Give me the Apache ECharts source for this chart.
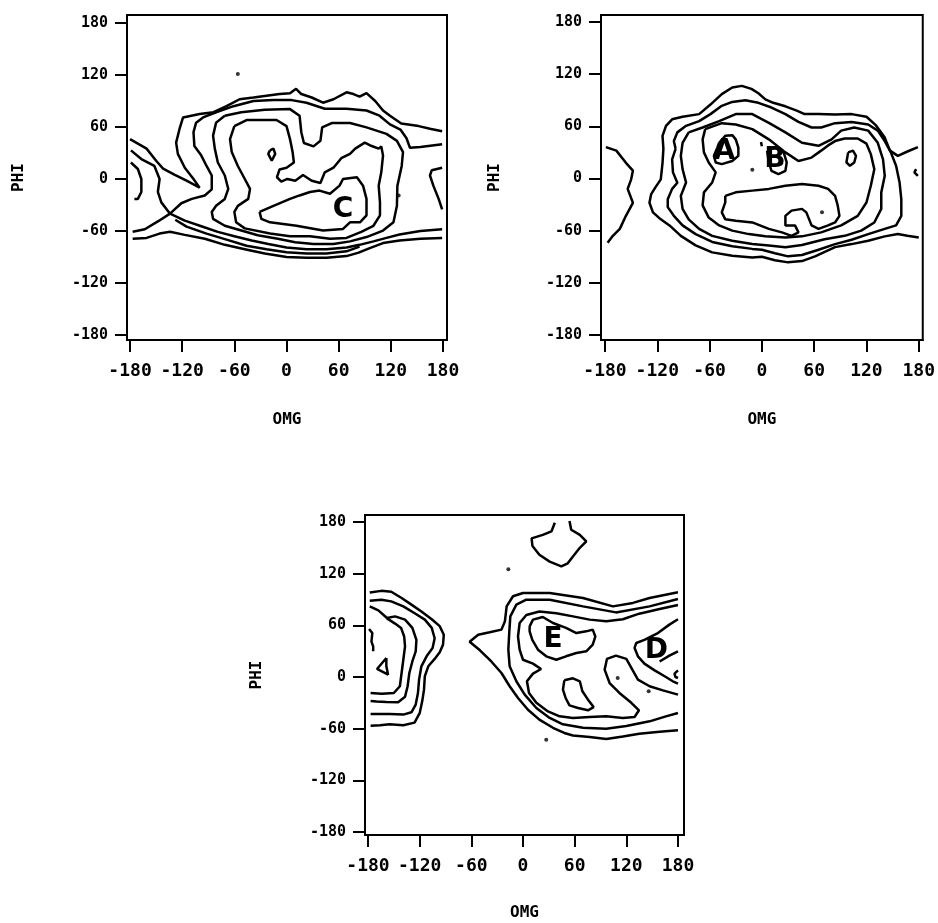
<!DOCTYPE html>
<html>
<head>
<meta charset="utf-8">
<script src="https://cdn.jsdelivr.net/npm/echarts@6/dist/echarts.min.js"></script>
<style>
html,body{margin:0;padding:0;background:#fff;}
#chart{width:938px;height:923px;}
</style>
</head>
<body>
<div id="chart"></div>
<script>
// tick labels shared by all three panels
var tickVals = [-180, -120, -60, 0, 60, 120, 180];

// ---- panel 1 (top left) contour lines, [OMG, PHI] ----
var p1Outer = [[-180,46],[-161,35],[-150,21],[-142,12],[-129,5],[-115,-2],[-100,-10],[-107,0],[-117,13],[-125,29],[-127,42],[-123,58],[-119,71],[-100,75],[-84,77],[-69,84],[-54,92],[-38,94],[-23,96],[-8,98],[4,99],[11,104],[17,98],[29,94],[42,88],[54,92],[69,100],[77,98],[84,95],[92,99],[102,90],[111,79],[119,73],[132,64],[152,61],[165,58],[179,55]];
var p1Second = [[-177,-61],[-163,-58],[-148,-49],[-134,-40],[-121,-28],[-109,-23],[-94,-19],[-86,-12],[-86,4],[-92,15],[-98,27],[-106,38],[-107,54],[-104,65],[-96,71],[-81,77],[-61,84],[-38,90],[-15,91],[6,91],[23,88],[44,81],[69,81],[92,79],[107,73],[119,63],[131,57],[138,47],[142,36],[154,37],[179,40]];
var p1Cross = [[-179,33],[-167,23],[-152,15],[-146,0],[-148,-15],[-144,-27],[-134,-40],[-117,-48],[-98,-54.5],[-79,-61],[-60,-66],[-40,-71],[-21,-75],[0,-79],[23,-81],[46,-81],[69,-79],[84,-76],[100,-72],[115,-68],[130,-64],[154,-60],[179,-58]];
var p1Mid = [[-128,-47],[-115,-55],[-92,-63],[-69,-70],[-46,-77],[-23,-81],[0,-84.5],[23,-86],[46,-86],[69,-83.5],[84,-78]];
var p1Bottom = [[-177,-69],[-161,-68],[-146,-63],[-134,-61],[-117,-64.5],[-94,-69],[-71,-76],[-48,-81],[-25,-86],[0,-90],[23,-91],[46,-91],[69,-89],[83,-85],[95,-80],[111,-74],[130,-71],[154,-69],[179,-68]];
var p1Third = [[-71,73],[-81,65],[-84.5,50],[-82.5,35],[-79,19],[-71,4],[-67,-11.5],[-71,-23],[-81,-31],[-86,-38],[-84.5,-46],[-71,-54],[-52,-59.5],[-33,-65],[-10,-69],[10,-73],[31,-75],[54,-75],[73,-72],[92,-67],[111,-59.5],[123,-50],[127,-31],[127.5,-8],[132.5,15],[134,31],[127,44],[115,52],[92,59.5],[73,64.5],[52,64.5],[41,59.5],[39,44],[31,37.6],[20,41.5],[17,54],[15,73],[4,80.6],[-25,80],[-52,77],[-71,73]];
var p1Fourth = [[-60,61],[-46,68],[-27,68],[-11.5,68],[0,61],[4,46],[7,31],[8.5,19],[0,13],[-8,11],[-11,2],[-6,-3],[1,0],[10,-2],[19,4.6],[29,-2],[39,-4.6],[44,7.7],[54,13],[63,24],[73,29],[79,35],[90,42],[98,38],[106,35],[109,37.6],[111,27],[109,7.7],[106,-7.7],[107.5,-27],[107.5,-42],[100,-54],[86,-61],[69,-68],[50,-69],[27,-66],[4,-66],[-19,-63],[-48,-57],[-58,-50],[-60,-38],[-56,-31],[-44,-23],[-42,-11.5],[-48,0],[-56,15],[-63,31],[-65,46],[-60,61]];
var p1Inner = [[-31,-38],[-15,-31],[4,-23],[15,-19],[27,-15],[38,-13.4],[50,-17],[61,-7.7],[65,0],[81,2],[88,-7.7],[92,-23],[92,-42],[84.5,-50],[73,-50],[65,-57.6],[42,-59.5],[11.5,-54],[-19,-50],[-29,-46],[-31,-38]];
var p1Blob = [[-19,33],[-15,35],[-13,29],[-17,21],[-21,29],[-19,33]];
var p1LeftArc = [[-179,19],[-171,11.5],[-167,0],[-167,-15],[-171,-23],[-175,-23]];
var p1RightArc = [[179,13],[167,10],[165,4],[169,-8],[175,-23],[179,-35]];
var p1Dots = [[129,-19],[-56,121]];
var p1Letters = ['C'];
var p1LetterPos = [[65,-36]];

// ---- panel 2 (top right) ----
var p2LeftArc = [[-179,36],[-167,32],[-156,18],[-148,9],[-150,-1],[-154,-12],[-148,-28],[-156,-43],[-163,-58],[-171,-66],[-177,-74]];
var p2Outer = [[179,36],[167,31],[156,26],[147,32],[141,47],[131,61],[120,71],[103,74],[84,73.5],[65,74],[49,74],[40,78],[27,83],[13,87],[4,91],[-4,98],[-12,103],[-23,106.5],[-34,104.6],[-46,97],[-59,85],[-72,74],[-91,71],[-103,68],[-110,60.5],[-114,49],[-113,34],[-114,18],[-116,-1],[-122,-10],[-127,-18],[-129,-28],[-125,-39],[-116,-47],[-106,-54],[-93,-66],[-76,-77],[-57,-85],[-34,-89],[-11,-91],[0,-90],[15,-94],[30,-96.5],[46,-95],[61,-89.6],[84,-79],[103,-75.5],[122,-71.6],[141,-66.6],[156,-64],[167,-66],[180,-68]];
var p2Second = [[-99,34],[-103,22],[-102,7],[-97,-5],[-103,-12],[-108,-24],[-108,-33],[-101,-43],[-91,-54],[-76,-64],[-57,-73],[-34,-78],[-11,-81],[0,-82],[15,-86],[30,-89.6],[46,-88],[65,-82],[84,-75.5],[103,-70.5],[122,-64],[141,-58],[154,-54],[160,-43],[160,-24],[158,-4.6],[154,14.6],[148,30],[141,43],[133,55],[122,62],[103,65],[84,63.6],[68,58.6],[57,58.6],[42,65],[27,74],[11,81.6],[-4,87],[-19,90],[-34,88],[-46,83.5],[-59,74],[-72,66],[-87,60.5],[-97,53],[-101,43],[-99,34]];
var p2Third = [[-84,53],[-68,58.6],[-49,66],[-30,74],[-11,74],[8,64],[27,53],[46,41],[65,37.5],[80,45],[91,55],[106,58.6],[122,55],[133,41],[139,22],[141,3],[137,-16],[137,-35],[129,-50.6],[114,-60],[95,-66],[72,-70],[46,-76.6],[27,-79],[8,-77],[-11,-75.5],[-34,-71.6],[-57,-66],[-72,-58],[-84,-47],[-91,-35],[-93,-20],[-87,-4.6],[-91,10.7],[-93,26],[-91,41],[-84,53]];
var p2Fourth = [[-65,56.7],[-46,63.6],[-30,62],[-11,56.7],[8,45],[27,30],[42,20],[57,24],[68,32],[76,38],[84,43],[95,46],[110,46],[120,40],[125,28],[129,10.7],[125,-8.4],[120,-27.6],[110,-43],[91,-54],[68,-62],[46,-66.6],[27,-68],[4,-66.6],[-15,-64],[-34,-60],[-49,-54],[-61,-45],[-68,-31],[-66.5,-16],[-57,-4.6],[-53,7],[-61,18.4],[-66.5,30],[-68,45],[-65,56.7]];
var p2Hook = [[-42,-20],[-30,-16],[-11,-14],[8,-12],[27,-8.4],[46,-6.5],[65,-8.4],[76,-12],[84,-20],[87,-31],[89,-43],[84,-50.6],[76,-54],[65,-58],[57,-54],[51,-39],[46,-35],[34,-37],[27,-43],[27,-54],[38,-54],[42,-62],[34,-66],[23,-62],[8,-58],[-11,-50.6],[-30,-48.6],[-42,-47],[-46,-39],[-42,-27.6],[-42,-20]];
var p2LoopA = [[-49,41],[-42,49],[-34,49.8],[-30,45],[-27,35.6],[-27,26],[-34,20],[-46,16.5],[-53,18.4],[-55,26],[-51,35.6],[-49,41]];
var p2LoopB = [[6,31.8],[15,35.6],[25,30],[28.5,18.4],[27,8.8],[19,5],[11,8.8],[8,18.4],[6,31.8]];
var p2Lobe = [[99,30],[104.5,32],[108,26],[106,18.4],[101,14.6],[97,18.4],[99,30]];
var p2EdgeBit = [[177,10.7],[175,7],[179,3]];
var p2Tick = [[-1,42],[0,37]];
var p2Dots = [[-11,10],[69,-39]];
var p2Letters = ['A', 'B'];
var p2LetterPos = [[-43,31],[15,22]];

// ---- panel 3 (bottom) ----
var p3TopBlob = [[37,179],[33,169],[23,165],[10,161],[11,152],[19,142],[31,134],[44.5,128.5],[52,132],[58,140],[66,150],[73.5,157.5],[66,165],[56,171],[54,181]];
var p3Left1 = [[-178,98],[-164.5,100],[-153,99],[-141,91.7],[-129.6,84],[-118,76],[-106,67],[-96.7,59],[-92,49],[-92.9,37.5],[-96.7,28.6],[-102.6,21],[-110,12.4],[-114,1],[-115,-15],[-117,-28],[-120,-42],[-126,-53],[-139,-56],[-155,-55],[-166,-56],[-177,-56.5]];
var p3Left2 = [[-178,88.6],[-164.5,89.8],[-153,87.8],[-139,82],[-125.8,74],[-114,66.6],[-106,57],[-102.6,45],[-105,33.7],[-112,24],[-118,12.4],[-120.7,-3],[-122,-18.6],[-124.6,-32],[-129.6,-41],[-139,-43.7],[-155,-43],[-166,-43],[-177,-43]];
var p3Left3 = [[-178,82],[-168,77.4],[-158,68.5],[-148.6,70.4],[-137,66.6],[-128.5,57],[-123.8,43],[-124.6,29.8],[-128.5,18],[-132,4.6],[-134,-10.8],[-137,-23],[-145,-29.4],[-158.7,-29],[-170,-28.6],[-177,-28]];
var p3Left4 = [[-177,-18.6],[-164,-19.4],[-150,-18.6],[-143,-10.8],[-141,4.6],[-139,20],[-137,35.6],[-138,47],[-141.6,57],[-148.6,62],[-158,68]];
var p3EdgeLeft = [[-178.8,55.7],[-175,51],[-176,41],[-174,35.6],[-174,29.8]];
var p3Tri = [[-158.7,22],[-169.5,9.3],[-156.7,2.7],[-158.7,12.4],[-158.7,22]];
var p3Right1 = [[180,98.3],[147,91.7],[127.7,86],[104.5,82],[69.7,91.7],[31,97.5],[0,97.5],[-11.6,93.7],[-19,82],[-21,64.6],[-25,55],[-38.7,51.9],[-52,49],[-62,41],[-50,31],[-36.8,18],[-25,4.6],[-15.5,-10.8],[-5.8,-24.4],[5.8,-38],[19,-49.5],[34.8,-59],[48,-65],[58,-68],[77.4,-69.7],[96.7,-72],[116,-69],[135,-65.8],[158.7,-63.5],[180,-62]];
var p3Right2 = [[180,90.6],[147,82],[108,75],[69.7,82],[31,89.8],[3.9,89.8],[-7.7,84],[-14.7,70.4],[-16,51],[-17,31.7],[-15.5,12.4],[-7.7,-5],[2,-20.5],[15.5,-36],[31,-47.6],[46.4,-55],[69.7,-59],[96.7,-60],[120,-57],[147,-51.5],[166,-45.7],[180,-41.8]];
var p3Right3 = [[180,83.6],[158.7,79],[135,73.5],[116,67],[96.7,64.6],[77.4,66.6],[58,70.4],[38.7,74],[19,76],[3.9,72],[-3.9,62.7],[-5.8,47],[-3.9,31.7],[0,20],[11.6,15.5],[21,9.3],[11.6,3.9],[4.6,-5],[7,-18.6],[15.5,-30],[29,-40],[42.6,-45.7],[58,-47.6],[77.4,-46.4],[96.7,-45.7],[116,-47.6],[129.6,-46.4],[134.7,-38.7],[125.8,-30],[112,-18.6],[100.6,-7],[94.8,8.5],[97.5,21],[108,24.8],[120,21],[127,8.5],[133.5,-3],[147,-10.8],[162.5,-15.5],[180,-20.5]];
var p3Hand = [[48,-3.9],[58,-1.5],[66,-5],[69,-16.6],[75.5,-26.3],[82,-35],[75.5,-38.7],[64,-36],[54,-33],[49.5,-24.4],[46.4,-14.7],[48,-3.9]];
var p3LoopE = [[7.7,58.8],[11.6,66.6],[23,69.7],[34.8,62.7],[50,57],[62,51],[73.5,53],[81,55],[84,47],[81,37.5],[73.5,29.8],[62,27.9],[50,24],[38.7,20],[27,24],[17.4,31.7],[10.8,43],[7.7,53],[7.7,58.8]];
var p3LineD = [[180,67],[170,60.8],[156.7,51],[141,43],[131.6,39.5],[129.6,33.7],[133.5,24],[141,15.5],[152.9,7.7],[164.5,0.8],[174,-5],[180,-7.7]];
var p3ShortD = [[158.7,18],[170,24.8],[180,29.8]];
var p3EdgeRight = [[180,7.7],[176,3.9],[177,0],[180,-1.2]];
var p3Dots = [[110,-1.2],[146,-16.6],[-17,125],[27,-73]];
var p3Letters = ['E', 'D'];
var p3LetterPos = [[35,43],[155,30]];

var myChart = echarts.init(document.getElementById('chart'));
var FONT = 'DejaVu Sans Mono';

var grids = [
  { left: 127, top: 15, width: 320, height: 325 },
  { left: 601, top: 15, width: 324, height: 325 },
  { left: 365, top: 515, width: 319, height: 320 }
];
var xRange = [[-183.5, 184.6], [-184.6, 184.6], [-183.5, 187]];
var yRange = [[-185.8, 189.2], [-185.8, 188], [-183.5, 188.1]];
var xNameGap = [72, 72, 70];
var yNameGap = [100, 98, 100];

function xAxisOf(i) {
  return {
    type: 'value', gridIndex: i, min: xRange[i][0], max: xRange[i][1],
    name: 'OMG', nameLocation: 'middle', nameGap: xNameGap[i],
    nameTextStyle: { color: '#000', fontFamily: FONT, fontWeight: 'bold', fontSize: 16 },
    axisLine: { show: true, onZero: false, lineStyle: { color: '#000', width: 2 } },
    axisTick: { show: true, length: 12, customValues: tickVals, lineStyle: { color: '#000', width: 2 } },
    axisLabel: { customValues: tickVals, margin: 22, color: '#000', fontFamily: FONT, fontWeight: 'bold', fontSize: 18 },
    splitLine: { show: false }
  };
}
function yAxisOf(i) {
  return {
    type: 'value', gridIndex: i, min: yRange[i][0], max: yRange[i][1],
    name: 'PHI', nameLocation: 'middle', nameGap: yNameGap[i],
    nameTextStyle: { color: '#000', fontFamily: FONT, fontWeight: 'bold', fontSize: 16 },
    axisLine: { show: true, onZero: false, lineStyle: { color: '#000', width: 2 } },
    axisTick: { show: true, length: 12, customValues: tickVals, lineStyle: { color: '#000', width: 2 } },
    axisLabel: { customValues: tickVals, margin: 19, color: '#000', fontFamily: FONT, fontWeight: 'bold', fontSize: 15 },
    splitLine: { show: false }
  };
}
function contour(data, i) {
  return {
    type: 'line', xAxisIndex: i, yAxisIndex: i, data: data,
    symbol: 'none', showSymbol: false, smooth: false, silent: true,
    lineStyle: { color: '#000', width: 2.5 }
  };
}
function dots(data, i) {
  return {
    type: 'scatter', xAxisIndex: i, yAxisIndex: i, data: data,
    symbol: 'circle', symbolSize: 4, silent: true, itemStyle: { color: '#000' }
  };
}
function letters(names, pos, i) {
  var d = [];
  for (var k = 0; k < names.length; k++) {
    d.push({ name: names[k], value: pos[k] });
  }
  return {
    type: 'scatter', xAxisIndex: i, yAxisIndex: i, data: d, z: 5,
    symbol: 'circle', symbolSize: 0, silent: true,
    itemStyle: { color: '#000' },
    label: { show: true, position: 'inside', formatter: '{b}', color: '#000', opacity: 1,
      textBorderWidth: 0, fontFamily: 'DejaVu Sans', fontWeight: 'bold', fontSize: 28 }
  };
}

var series = [];
[p1Outer, p1Second, p1Cross, p1Mid, p1Bottom, p1Third, p1Fourth, p1Inner, p1Blob, p1LeftArc, p1RightArc]
  .forEach(function (d) { series.push(contour(d, 0)); });
series.push(dots(p1Dots, 0));
series.push(letters(p1Letters, p1LetterPos, 0));

[p2LeftArc, p2Outer, p2Second, p2Third, p2Fourth, p2Hook, p2LoopA, p2LoopB, p2Lobe, p2EdgeBit, p2Tick]
  .forEach(function (d) { series.push(contour(d, 1)); });
series.push(dots(p2Dots, 1));
series.push(letters(p2Letters, p2LetterPos, 1));

[p3TopBlob, p3Left1, p3Left2, p3Left3, p3Left4, p3EdgeLeft, p3Tri, p3Right1, p3Right2, p3Right3, p3Hand, p3LoopE, p3LineD, p3ShortD, p3EdgeRight]
  .forEach(function (d) { series.push(contour(d, 2)); });
series.push(dots(p3Dots, 2));
series.push(letters(p3Letters, p3LetterPos, 2));

var option = {
  animation: false,
  backgroundColor: '#fff',
  grid: grids.map(function (g) {
    return { left: g.left, top: g.top, width: g.width, height: g.height,
      show: true, borderColor: '#000', borderWidth: 2, backgroundColor: 'transparent' };
  }),
  xAxis: [xAxisOf(0), xAxisOf(1), xAxisOf(2)],
  yAxis: [yAxisOf(0), yAxisOf(1), yAxisOf(2)],
  series: series
};
myChart.setOption(option);
</script>
</body>
</html>
